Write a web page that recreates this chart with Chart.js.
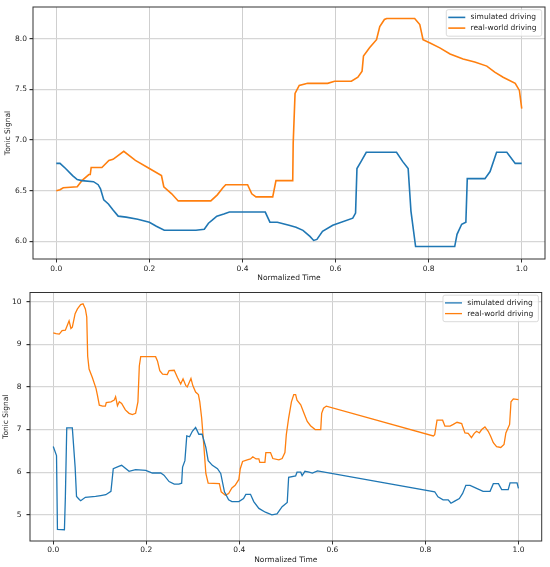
<!DOCTYPE html>
<html>
<head>
<meta charset="utf-8">
<script src="https://cdn.jsdelivr.net/npm/chart.js@4.4.1/dist/chart.umd.min.js"></script>
<style>
  html, body { margin: 0; padding: 0; background: #fff; }
  .panel { position: absolute; left: 0; width: 550px; }
  #top { top: 0; height: 283px; }
  #bottom { top: 283px; height: 284px; }
</style>
</head>
<body>
<div class="panel" id="top"><canvas id="chartTop"></canvas></div>
<div class="panel" id="bottom"><canvas id="chartBottom"></canvas></div>
<script>
// series labels
const seriesLabels = ['simulated driving', 'real-world driving'];
const xTicks = [0.0, 0.2, 0.4, 0.6, 0.8, 1.0];
const topYTicks = [6.0, 6.5, 7.0, 7.5, 8.0];
const bottomYTicks = [5, 6, 7, 8, 9, 10];

// upper panel, simulated
const topSimX = [0.000, 0.008, 0.020, 0.035, 0.045, 0.055, 0.080, 0.090, 0.095, 0.102, 0.112, 0.122, 0.133, 0.150, 0.175, 0.200, 0.215, 0.232, 0.300, 0.318, 0.327, 0.335, 0.345, 0.360, 0.372, 0.449, 0.459, 0.475, 0.500, 0.515, 0.530, 0.545, 0.553, 0.560, 0.572, 0.594, 0.637, 0.643, 0.646, 0.655, 0.666, 0.731, 0.744, 0.756, 0.762, 0.772, 0.856, 0.861, 0.871, 0.880, 0.883, 0.921, 0.932, 0.946, 0.968, 0.986, 1.000];
const topSimY = [6.77, 6.77, 6.72, 6.65, 6.61, 6.60, 6.59, 6.56, 6.52, 6.41, 6.37, 6.31, 6.25, 6.24, 6.22, 6.19, 6.15, 6.11, 6.11, 6.12, 6.18, 6.21, 6.25, 6.27, 6.29, 6.29, 6.19, 6.19, 6.16, 6.14, 6.11, 6.05, 6.01, 6.02, 6.10, 6.16, 6.23, 6.28, 6.72, 6.79, 6.88, 6.88, 6.79, 6.72, 6.30, 5.95, 5.95, 6.07, 6.17, 6.19, 6.62, 6.62, 6.69, 6.88, 6.88, 6.77, 6.77];

// upper panel, real-world
const topRealX = [0.000, 0.008, 0.015, 0.045, 0.055, 0.070, 0.073, 0.075, 0.098, 0.113, 0.122, 0.145, 0.170, 0.200, 0.226, 0.231, 0.248, 0.262, 0.332, 0.346, 0.358, 0.364, 0.411, 0.420, 0.429, 0.465, 0.472, 0.508, 0.509, 0.513, 0.522, 0.540, 0.583, 0.598, 0.634, 0.648, 0.657, 0.660, 0.673, 0.688, 0.695, 0.705, 0.710, 0.770, 0.781, 0.788, 0.802, 0.824, 0.846, 0.874, 0.899, 0.925, 0.942, 0.960, 0.986, 0.995, 1.000];
const topRealY = [6.50, 6.51, 6.53, 6.54, 6.60, 6.66, 6.66, 6.73, 6.73, 6.80, 6.81, 6.89, 6.80, 6.72, 6.65, 6.54, 6.47, 6.40, 6.40, 6.46, 6.53, 6.56, 6.56, 6.47, 6.44, 6.44, 6.60, 6.60, 6.97, 7.46, 7.54, 7.56, 7.56, 7.58, 7.58, 7.62, 7.68, 7.83, 7.91, 7.99, 8.12, 8.19, 8.20, 8.20, 8.14, 7.99, 7.96, 7.91, 7.85, 7.80, 7.77, 7.73, 7.67, 7.62, 7.56, 7.49, 7.31];

// lower panel, simulated
const bottomSimX = [0.000, 0.007, 0.009, 0.024, 0.026, 0.029, 0.041, 0.047, 0.050, 0.056, 0.059, 0.069, 0.091, 0.102, 0.113, 0.124, 0.129, 0.142, 0.147, 0.163, 0.177, 0.199, 0.213, 0.231, 0.238, 0.249, 0.260, 0.270, 0.276, 0.278, 0.283, 0.287, 0.293, 0.299, 0.306, 0.313, 0.320, 0.328, 0.333, 0.342, 0.353, 0.360, 0.368, 0.377, 0.384, 0.399, 0.409, 0.414, 0.424, 0.431, 0.442, 0.456, 0.470, 0.481, 0.492, 0.503, 0.506, 0.521, 0.524, 0.532, 0.535, 0.541, 0.550, 0.557, 0.568, 0.820, 0.827, 0.838, 0.849, 0.855, 0.863, 0.873, 0.880, 0.887, 0.896, 0.910, 0.924, 0.939, 0.946, 0.957, 0.964, 0.978, 0.982, 0.997, 1.000];
const bottomSimY = [6.60, 6.39, 4.66, 4.65, 5.40, 7.04, 7.04, 6.12, 5.43, 5.36, 5.33, 5.41, 5.43, 5.45, 5.47, 5.55, 6.08, 6.14, 6.16, 6.02, 6.06, 6.04, 5.98, 5.98, 5.93, 5.78, 5.72, 5.72, 5.74, 6.12, 6.27, 6.85, 6.83, 6.96, 7.05, 6.89, 6.89, 6.58, 6.27, 6.16, 6.08, 5.97, 5.54, 5.35, 5.31, 5.31, 5.38, 5.48, 5.48, 5.31, 5.15, 5.06, 5.00, 5.02, 5.19, 5.29, 5.88, 5.91, 6.00, 6.00, 5.92, 6.02, 6.00, 5.98, 6.03, 5.54, 5.42, 5.35, 5.35, 5.27, 5.32, 5.38, 5.50, 5.69, 5.69, 5.62, 5.55, 5.55, 5.73, 5.73, 5.59, 5.59, 5.75, 5.75, 5.62];

// lower panel, real-world
const bottomRealX = [0.000, 0.006, 0.013, 0.019, 0.026, 0.029, 0.034, 0.038, 0.041, 0.047, 0.052, 0.059, 0.064, 0.069, 0.072, 0.074, 0.077, 0.084, 0.092, 0.095, 0.099, 0.106, 0.112, 0.114, 0.124, 0.131, 0.134, 0.138, 0.142, 0.147, 0.155, 0.163, 0.170, 0.177, 0.182, 0.185, 0.188, 0.220, 0.224, 0.229, 0.235, 0.245, 0.249, 0.260, 0.267, 0.274, 0.279, 0.285, 0.288, 0.296, 0.300, 0.306, 0.312, 0.315, 0.319, 0.324, 0.328, 0.333, 0.357, 0.361, 0.370, 0.377, 0.384, 0.391, 0.399, 0.402, 0.407, 0.417, 0.424, 0.429, 0.436, 0.442, 0.444, 0.455, 0.457, 0.467, 0.472, 0.485, 0.492, 0.498, 0.501, 0.506, 0.512, 0.517, 0.521, 0.524, 0.532, 0.539, 0.546, 0.553, 0.563, 0.575, 0.577, 0.581, 0.587, 0.817, 0.820, 0.825, 0.837, 0.842, 0.853, 0.860, 0.868, 0.878, 0.881, 0.885, 0.892, 0.899, 0.905, 0.910, 0.916, 0.921, 0.928, 0.935, 0.940, 0.946, 0.953, 0.962, 0.969, 0.973, 0.981, 0.984, 0.989, 1.000];
const bottomRealY = [9.27, 9.25, 9.24, 9.32, 9.33, 9.41, 9.55, 9.37, 9.40, 9.72, 9.83, 9.93, 9.95, 9.83, 9.64, 8.72, 8.42, 8.22, 7.96, 7.80, 7.57, 7.55, 7.55, 7.63, 7.65, 7.69, 7.77, 7.56, 7.65, 7.61, 7.46, 7.38, 7.35, 7.38, 7.65, 8.49, 8.71, 8.71, 8.61, 8.38, 8.30, 8.29, 8.38, 8.39, 8.22, 8.07, 8.19, 8.03, 8.00, 8.20, 8.03, 7.88, 7.82, 7.65, 7.27, 6.58, 5.97, 5.74, 5.73, 5.54, 5.46, 5.50, 5.63, 5.69, 5.83, 6.08, 6.25, 6.29, 6.31, 6.36, 6.31, 6.31, 6.23, 6.23, 6.46, 6.46, 6.32, 6.29, 6.32, 6.46, 6.88, 7.27, 7.65, 7.82, 7.82, 7.69, 7.58, 7.38, 7.19, 7.09, 7.00, 7.00, 7.38, 7.50, 7.55, 6.85, 6.88, 7.22, 7.22, 7.08, 7.08, 7.12, 7.17, 7.14, 7.04, 6.92, 6.91, 6.81, 6.91, 6.96, 6.92, 7.00, 7.06, 6.96, 6.85, 6.69, 6.60, 6.58, 6.65, 6.92, 7.12, 7.65, 7.72, 7.70];

const BLUE = '#1f77b4';
const ORANGE = '#ff7f0e';
const TEXT = '#222';
const FONT = '"DejaVu Sans", sans-serif';

Chart.defaults.font.family = FONT;
Chart.defaults.color = TEXT;

function zip(xs, ys) {
  return xs.map((x, i) => ({ x: x, y: ys[i] }));
}

// axes frame + legend box in the upper right corner
const framePlugin = {
  id: 'frame',
  afterDatasetsDraw(chart) {
    const ctx = chart.ctx;
    const a = chart.chartArea;
    ctx.save();
    ctx.strokeStyle = '#333';
    ctx.lineWidth = 1;
    ctx.strokeRect(a.left, a.top, a.right - a.left, a.bottom - a.top);

    ctx.font = '7.5px ' + FONT;
    const sets = chart.data.datasets;
    const textW = Math.max(...sets.map(d => ctx.measureText(d.label).width));
    const w = textW + 29.5, h = 26.5;
    const x = a.right - 3.3 - w, y = a.top + 2.7;
    ctx.beginPath();
    ctx.roundRect(x, y, w, h, 2);
    ctx.fillStyle = 'rgba(255,255,255,0.8)';
    ctx.fill();
    ctx.strokeStyle = '#d0d0d0';
    ctx.lineWidth = 0.8;
    ctx.stroke();

    ctx.textBaseline = 'middle';
    ctx.textAlign = 'left';
    sets.forEach((d, i) => {
      const ly = y + 7.7 + i * 10.7;
      ctx.beginPath();
      ctx.moveTo(x + 2, ly);
      ctx.lineTo(x + 19, ly);
      ctx.strokeStyle = d.borderColor;
      ctx.lineWidth = d.borderWidth;
      ctx.stroke();
      ctx.fillStyle = TEXT;
      ctx.fillText(d.label, x + 24.3, ly);
    });
    ctx.restore();
  }
};

function makeChart(id, p) {
  return new Chart(document.getElementById(id), {
    type: 'line',
    data: {
      datasets: [
        { label: seriesLabels[0], data: zip(p.simX, p.simY), borderColor: BLUE, borderWidth: p.lineWidth },
        { label: seriesLabels[1], data: zip(p.realX, p.realY), borderColor: ORANGE, borderWidth: p.lineWidth }
      ]
    },
    options: {
      responsive: true,
      maintainAspectRatio: false,
      animation: false,
      layout: { padding: p.padding },
      elements: { point: { radius: 0 }, line: { tension: 0, fill: false } },
      plugins: { legend: { display: false }, tooltip: { enabled: false } },
      scales: {
        x: {
          type: 'linear',
          min: -0.05,
          max: 1.05,
          afterBuildTicks: s => { s.ticks = xTicks.map(v => ({ value: v })); },
          afterFit: s => { s.height = p.xHeight; },
          ticks: { font: { size: 7.5 }, color: TEXT, padding: p.xTickPad, maxRotation: 0, callback: v => v.toFixed(1) },
          grid: { color: '#cfcfcf', lineWidth: 1, tickLength: 3.5, tickColor: '#333' },
          border: { display: false },
          title: { display: true, text: 'Normalized Time', font: { size: 7.5 }, color: TEXT, padding: { top: 0, bottom: p.xTitlePad } }
        },
        y: {
          min: p.yMin,
          max: p.yMax,
          afterBuildTicks: s => { s.ticks = p.yTicks.map(v => ({ value: v })); },
          afterFit: s => { s.width = p.yWidth; },
          ticks: { font: { size: 7.5 }, color: TEXT, padding: p.yTickPad, callback: v => v.toFixed(p.yDec) },
          grid: { color: '#d6d6d6', lineWidth: 1.2, tickLength: 3.5, tickColor: '#333' },
          border: { display: false },
          title: { display: true, text: 'Tonic Signal', font: { size: 7.5 }, color: TEXT, padding: { top: p.yTitlePad, bottom: 0 } }
        }
      }
    },
    plugins: [framePlugin]
  });
}

makeChart('chartTop', {
  simX: topSimX, simY: topSimY, realX: topRealX, realY: topRealY,
  yMin: 5.827, yMax: 8.313, yTicks: topYTicks, yDec: 1,
  lineWidth: 1.6,
  padding: { left: 0, right: 5, top: 5.5, bottom: 0 },
  yWidth: 33, xHeight: 24,
  xTickPad: 2.3, xTitlePad: 0.5, yTickPad: 2.5, yTitlePad: 3.8
});

makeChart('chartBottom', {
  simX: bottomSimX, simY: bottomSimY, realX: bottomRealX, realY: bottomRealY,
  yMin: 4.385, yMax: 10.215, yTicks: bottomYTicks, yDec: 0,
  lineWidth: 1.3,
  padding: { left: 0, right: 8.3, top: 4.7, bottom: 0 },
  yWidth: 30, xHeight: 26,
  xTickPad: 0.7, xTitlePad: 2.2, yTickPad: 5, yTitlePad: 1.8
});
</script>
</body>
</html>
